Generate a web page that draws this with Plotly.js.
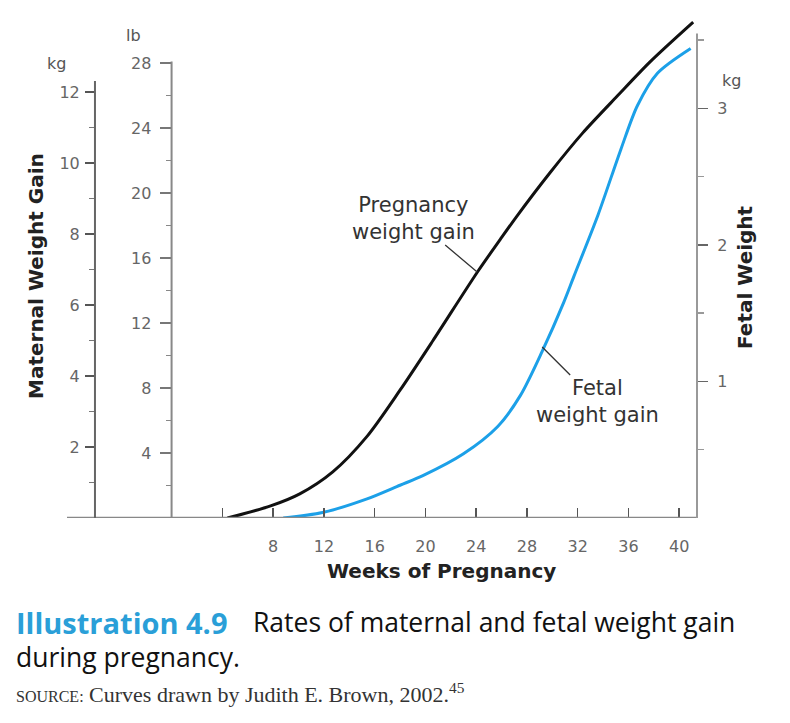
<!DOCTYPE html>
<html>
<head>
<meta charset="utf-8">
<script src="https://cdn.plot.ly/plotly-3.0.1.min.js"></script>
<style>html,body{margin:0;padding:0;background:#fff;}#chart{width:790px;height:723px;}</style>
</head>
<body>
<div id="chart"></div>
<script>
// Pregnancy (maternal) weight gain, kg
const weeksMaternal = [4.4, 7.8, 10.1, 12.7, 15.4, 18.0, 20.6, 24.1, 25.9, 27.2, 29.8, 32.4, 35.1, 37.7, 41.1];
const maternalKg    = [0, 0.34, 0.68, 1.3, 2.3, 3.6, 5.0, 6.93, 7.85, 8.5, 9.72, 10.85, 11.88, 12.85, 13.97];

// Fetal weight, kg
const weeksFetal = [8.8, 11.9, 15.4, 18.0, 19.8, 23.0, 25.7, 27.5, 29.2, 30.9, 31.7, 33.6, 35.4, 36.7, 38.3, 40.9];
const fetalKg    = [0, 0.04, 0.14, 0.24, 0.31, 0.47, 0.67, 0.90, 1.22, 1.58, 1.77, 2.22, 2.70, 3.02, 3.26, 3.44];

// Tick values and labels
const weekTicks  = [8, 12, 16, 20, 24, 28, 32, 36, 40];
const weekMinor  = [4];
const kgTicks    = [2, 4, 6, 8, 10, 12];
const kgMinor    = [1, 3, 5, 7, 9, 11];
const lbTicks    = [4, 8, 12, 16, 20, 24, 28];
const lbMinor    = [2, 6, 10, 14, 18, 22, 26];
const fetalTicks = [1, 2, 3];
const fetalMinor = [0.5, 1.5, 2.5, 3.5];

const FONT = 'DejaVu Sans, Arial, sans-serif';
const tickFont = {family: FONT, size: 16, color: '#666'};

const traces = [
  {x: weeksMaternal, y: maternalKg, type: 'scatter', mode: 'lines', yaxis: 'y',
   line: {color: '#111', width: 3, shape: 'spline', smoothing: 0.8}, hoverinfo: 'skip', showlegend: false},
  {x: weeksFetal, y: fetalKg, type: 'scatter', mode: 'lines', yaxis: 'y3',
   line: {color: '#1ca0e8', width: 3, shape: 'spline', smoothing: 0.8}, hoverinfo: 'skip', showlegend: false}
];

const px = v => (v - 67) / 630;     // pixel x -> paper x
const py = v => (518 - v) / 498;    // pixel y -> paper y

function label(x, y, text, font, extra) {
  return Object.assign({xref: 'paper', yref: 'paper', x: px(x), y: py(y), text: text,
    showarrow: false, xanchor: 'center', yanchor: 'middle', font: font}, extra || {});
}

const layout = {
  width: 790, height: 723,
  margin: {l: 67, r: 93, t: 20, b: 205},
  paper_bgcolor: '#fff', plot_bgcolor: 'rgba(0,0,0,0)',
  showlegend: false,
  xaxis: {
    domain: [0.166, 1], range: [0, 41.4],
    tickmode: 'array', tickvals: weekTicks,
    ticks: 'inside', ticklen: 10, tickwidth: 1.5, tickcolor: '#555',
    minor: {tickmode: 'array', tickvals: weekMinor, ticks: 'inside', ticklen: 10, tickwidth: 1.5, tickcolor: '#555', showgrid: false},
    showline: false, showgrid: false, zeroline: false,
    tickfont: tickFont, ticklabelstandoff: 17, fixedrange: true
  },
  yaxis: {
    range: [0, 14.03], anchor: 'free', position: 0.0444,
    tickmode: 'array', tickvals: kgTicks,
    ticks: 'outside', ticklen: 10, tickwidth: 1.5, tickcolor: '#555',
    minor: {tickmode: 'array', tickvals: kgMinor, ticks: 'outside', ticklen: 6, tickwidth: 1.5, tickcolor: '#777', showgrid: false},
    showline: false, showgrid: false, zeroline: false,
    tickfont: tickFont, ticklabelstandoff: 2, fixedrange: true
  },
  yaxis2: {
    range: [0, 30.65], overlaying: 'y', anchor: 'free', position: 0.166,
    tickmode: 'array', tickvals: lbTicks,
    ticks: 'outside', ticklen: 12, tickwidth: 1.5, tickcolor: '#777',
    minor: {tickmode: 'array', tickvals: lbMinor, ticks: 'outside', ticklen: 6, tickwidth: 1.5, tickcolor: '#888', showgrid: false},
    showline: false, showgrid: false, zeroline: false,
    tickfont: tickFont, ticklabelstandoff: 5, fixedrange: true
  },
  yaxis3: {
    range: [0, 3.648], overlaying: 'y', side: 'right', anchor: 'x',
    tickmode: 'array', tickvals: fetalTicks,
    ticks: 'outside', ticklen: 10, tickwidth: 1.5, tickcolor: '#666',
    minor: {tickmode: 'array', tickvals: fetalMinor, ticks: 'outside', ticklen: 6, tickwidth: 1.5, tickcolor: '#999', showgrid: false},
    showline: false, showgrid: false, zeroline: false,
    tickfont: tickFont, ticklabelstandoff: 6, fixedrange: true
  },
  shapes: [
    {type: 'line', xref: 'paper', yref: 'y', x0: 0, x1: 1, y0: 0, y1: 0, line: {color: '#888', width: 2.5}},
    {type: 'line', xref: 'paper', yref: 'y', x0: 0.0444, x1: 0.0444, y0: 0, y1: 12.31, line: {color: '#666', width: 2}},
    {type: 'line', xref: 'paper', yref: 'y2', x0: 0.166, x1: 0.166, y0: 0, y1: 28.1, line: {color: '#888', width: 2}},
    {type: 'line', xref: 'paper', yref: 'y3', x0: 1, x1: 1, y0: 0, y1: 3.55, line: {color: '#999', width: 2}}
  ],
  annotations: [
    label(56, 64, 'kg', {family: FONT, size: 16, color: '#555'}),
    label(133, 36, 'lb', {family: FONT, size: 16, color: '#555'}),
    label(731, 80, 'kg', {family: FONT, size: 16, color: '#555'}),
    label(36, 276, '<b>Maternal Weight Gain</b>', {family: FONT, size: 20, color: '#222'}, {textangle: -90}),
    label(745, 277, '<b>Fetal Weight</b>', {family: FONT, size: 20, color: '#222'}, {textangle: -90}),
    label(441, 571, '<b>Weeks of Pregnancy</b>', {family: FONT, size: 20, color: '#222'}),
    {xref: 'x', yref: 'y', x: 24.08, y: 6.93, ax: -64, ay: -54, text: 'Pregnancy<br>weight gain', showarrow: true, arrowhead: 0, arrowwidth: 1.3, arrowcolor: '#333', font: {family: FONT, size: 21, color: '#333'}},
    {xref: 'x', yref: 'y3', x: 29.2, y: 1.253, ax: 55, ay: 55, text: 'Fetal<br>weight gain', showarrow: true, arrowhead: 0, arrowwidth: 1.3, arrowcolor: '#333', font: {family: FONT, size: 21, color: '#333'}},
    label(14, 622, '<b>Illustration 4.9</b>', {family: 'Open Sans, Lato, sans-serif', size: 29, color: '#2a9fd8'}, {xanchor: 'left'}),
    label(251, 622, 'Rates of maternal and fetal weight gain', {family: 'Open Sans, Lato, sans-serif', size: 26.5, color: '#111'}, {xanchor: 'left'}),
    label(14, 657, 'during pregnancy.', {family: 'Open Sans, Lato, sans-serif', size: 26.5, color: '#111'}, {xanchor: 'left'}),
    label(14, 693, '<span style="font-size:16px">SOURCE:</span> Curves drawn by Judith E. Brown, 2002.<sup>45</sup>', {family: 'Liberation Serif, serif', size: 22, color: '#333'}, {xanchor: 'left'})
  ]
};

Plotly.newPlot('chart', traces, layout, {displayModeBar: false, staticPlot: true});
</script>
</body>
</html>
